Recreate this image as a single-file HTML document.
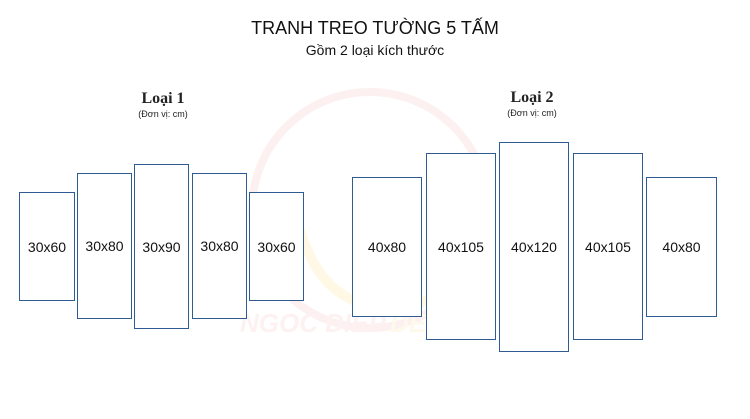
<!DOCTYPE html>
<html><head><meta charset="utf-8"><style>
body{margin:0;width:750px;height:419px;background:#fff;position:relative;overflow:hidden;font-family:"Liberation Sans",sans-serif;}
.t{position:absolute;left:0;width:750px;text-align:center;color:#111;}
.b{position:absolute;border:1.5px solid #2f5b93;box-sizing:border-box;display:flex;align-items:center;justify-content:center;font-size:14px;color:#111;background:#fff;}
.l{position:absolute;text-align:center;width:160px;}
.l b{display:block;font-family:"Liberation Serif",serif;font-size:16px;font-weight:bold;color:#222;}
.l span{display:block;font-size:9px;color:#222;margin-top:1px;}
</style></head><body>
<svg style="position:absolute;left:0;top:0" width="750" height="419">
<circle cx="370" cy="210" r="118" fill="none" stroke="#fdf0f0" stroke-width="8"/>
<path d="M300 230 Q330 330 430 300" fill="none" stroke="#fef8e4" stroke-width="10"/>
<text x="240" y="332" font-family="Liberation Sans" font-style="italic" font-weight="bold" font-size="26" fill="#fdf1f1">NGOC DIEP</text>
<text x="390" y="332" font-family="Liberation Sans" font-style="italic" font-weight="bold" font-size="26" fill="#fef9ea">DECOR</text>
</svg>
<div class="t" style="top:18px;font-size:18px;">TRANH TREO TƯỜNG 5 TẤM</div>
<div class="t" style="top:42px;font-size:14px;">Gồm 2 loại kích thước</div>
<div class="l" style="left:83px;top:90px;"><b>Loại 1</b><span>(Đơn vị: cm)</span></div>
<div class="l" style="left:452px;top:89px;"><b>Loại 2</b><span>(Đơn vị: cm)</span></div>
<div class="b" style="left:19px;top:192px;width:56px;height:109px;">30x60</div>
<div class="b" style="left:77px;top:173px;width:55px;height:146px;">30x80</div>
<div class="b" style="left:134px;top:164px;width:55px;height:165px;">30x90</div>
<div class="b" style="left:192px;top:173px;width:55px;height:146px;">30x80</div>
<div class="b" style="left:249px;top:192px;width:55px;height:109px;">30x60</div>
<div class="b" style="left:352px;top:177px;width:70px;height:140px;">40x80</div>
<div class="b" style="left:426px;top:153px;width:70px;height:187px;">40x105</div>
<div class="b" style="left:499px;top:142px;width:70px;height:210px;">40x120</div>
<div class="b" style="left:573px;top:153px;width:70px;height:187px;">40x105</div>
<div class="b" style="left:646px;top:177px;width:71px;height:140px;">40x80</div>
</body></html>
